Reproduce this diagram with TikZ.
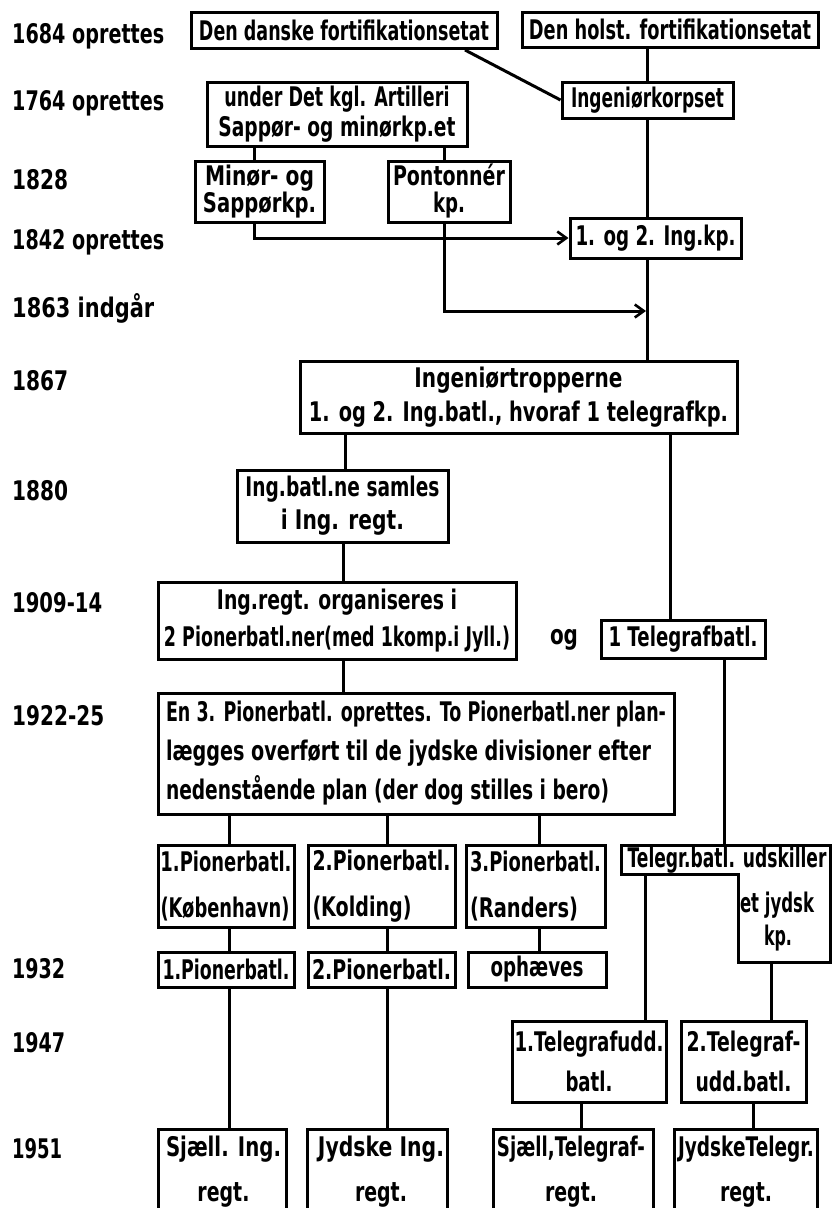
\documentclass[tikz,border=0pt]{standalone}
\usepackage{fontspec}
\usepackage{graphicx}
\newfontfamily\dfont[FakeStretch=0.63]{DejaVu Sans}
\usetikzlibrary{arrows.meta}
\newcommand{\bxfont}[1]{\dfont\bfseries\fontsize{27}{#1}\selectfont}
\newcommand{\fw}[2]{\resizebox{#1pt}{\height}{#2}}
\begin{document}
\begin{tikzpicture}[x=1pt,y=-1pt,
  box/.style={draw,line width=3pt,inner sep=0pt,align=center,font=\bxfont{30}},
  txt/.style={inner sep=0pt,align=center,font=\bxfont{30}},
  yr/.style={anchor=base west,inner sep=0pt,font=\bxfont{30}},
  ln/.style={line width=3pt},
  arr/.style={ln,-{Straight Barb[length=9pt,width=13pt,line width=2.6pt]}}
]
\useasboundingbox (0,0) rectangle (833,1208);
\fill[white] (0,0) rectangle (833,1208);

% year labels
\node[yr] (y1684) at (12,43) {\fw{152}{1684 oprettes}};
\node[yr] (y1764) at (12,110) {\fw{152}{1764 oprettes}};
\node[yr] (y1828) at (12,189) {\fw{56}{1828}};
\node[yr] (y1842) at (12,249) {\fw{152}{1842 oprettes}};
\node[yr] (y1863) at (12,317) {\fw{142}{1863 indgår}};
\node[yr] (y1867) at (12,390) {\fw{56}{1867}};
\node[yr] (y1880) at (12,500) {\fw{56}{1880}};
\node[yr] (y1909) at (12,612) {\fw{90}{1909-14}};
\node[yr] (y1922) at (12,725) {\fw{92}{1922-25}};
\node[yr] (y1932) at (12,978) {\fw{53}{1932}};
\node[yr] (y1947) at (12,1052) {\fw{53}{1947}};
\node[yr] (y1951) at (12,1158) {\fw{50}{1951}};

% boxes
\node[box,minimum width=306,minimum height=36] (A) at (344,30.5) {\fw{290}{Den danske fortifikationsetat}};
\node[box,minimum width=296,minimum height=35] (B) at (670,29.5) {\fw{282}{Den holst. fortifikationsetat}};
\node[box,minimum width=171,minimum height=36] (C) at (647.5,100) {\fw{153}{Ingeniørkorpset}};
\node[box,minimum width=260,minimum height=64] (D) at (337,114) {\fw{225}{under Det kgl. Artilleri}\\\fw{237}{Sappør- og minørkp.et}};
\node[box,minimum width=129,minimum height=61,font=\bxfont{27}] (E) at (259.5,191.5) {\fw{109}{Minør- og}\\\fw{113}{Sappørkp.}};
\node[box,minimum width=122,minimum height=61,font=\bxfont{27}] (F) at (449,191.5) {\fw{112}{Pontonnér}\\\fw{32}{kp.}};
\node[box,minimum width=171,minimum height=40] (G) at (655.5,238) {\fw{160}{1. og 2. Ing.kp.}};
\node[box,minimum width=437,minimum height=72,font=\bxfont{34}] (H) at (518.5,397) {\fw{208}{Ingeniørtropperne}\\\fw{419}{1. og 2. Ing.batl., hvoraf 1 telegrafkp.}};
\node[box,minimum width=211,minimum height=72,font=\bxfont{33}] (I) at (342.5,506) {\fw{194}{Ing.batl.ne samles}\\\fw{123}{i Ing. regt.}};
\node[box,minimum width=358,minimum height=77,font=\bxfont{37}] (J) at (337,620.5) {\fw{240}{Ing.regt. organiseres i}\\\fw{346}{2 Pionerbatl.ner(med 1komp.i Jyll.)}};
\node[txt] (og) at (564,640) {\fw{28}{og}};
\node[box,minimum width=164,minimum height=38] (K) at (683,639) {\fw{149}{1 Telegrafbatl.}};
\node[box,minimum width=516,minimum height=121,align=left,font=\bxfont{39}] (L) at (416,753.5) {\fw{500}{En 3. Pionerbatl. oprettes. To Pionerbatl.ner plan-}\\\fw{485}{lægges overført til de jydske divisioner efter}\\\fw{443}{nedenstående plan (der dog stilles i bero)}};
\node[box,minimum width=136,minimum height=82,align=left,font=\bxfont{46}] (M1) at (226,886) {\fw{131}{1.Pionerbatl.}\\\fw{129}{(København)}};
\node[box,minimum width=147,minimum height=82,align=left,font=\bxfont{46}] (M2) at (381.5,886) {\fw{138}{2.Pionerbatl.}\\\fw{99}{(Kolding)}};
\node[box,minimum width=139,minimum height=82,align=left,font=\bxfont{46}] (M3) at (535.5,886) {\fw{131}{3.Pionerbatl.}\\\fw{108}{(Randers)}};
\node[box,minimum width=136,minimum height=35] (N1) at (226,969.5) {\fw{127}{1.Pionerbatl.}};
\node[box,minimum width=147,minimum height=35] (N2) at (381.5,969.5) {\fw{139}{2.Pionerbatl.}};
\node[box,minimum width=138,minimum height=35] (N3) at (537,969.5) {\fw{93}{ophæves}};
\node[box,minimum width=154,minimum height=81,font=\bxfont{40}] (O1) at (589,1061.5) {\fw{149}{1.Telegrafudd.}\\\fw{47}{batl.}};
\node[box,minimum width=125,minimum height=81,font=\bxfont{40}] (O2) at (743.5,1061.5) {\fw{114}{2.Telegraf-}\\\fw{96}{udd.batl.}};
\node[box,minimum width=128,minimum height=101] (P1) at (222,1179.5) {};
\node[box,minimum width=140,minimum height=101] (P2) at (377,1179.5) {};
\node[box,minimum width=160,minimum height=101] (P3) at (573,1179.5) {};
\node[box,minimum width=143,minimum height=101] (P4) at (745.5,1179.5) {};
\node[txt,font=\bxfont{45}] (P1t) at (223.5,1172) {\fw{115}{Sjæll. Ing.}\\\fw{52}{regt.}};
\node[txt,font=\bxfont{45}] (P2t) at (381,1172) {\fw{126}{Jydske Ing.}\\\fw{52}{regt.}};
\node[txt,font=\bxfont{45}] (P3t) at (571,1172) {\fw{148}{Sjæll,Telegraf-}\\\fw{52}{regt.}};
\node[txt,font=\bxfont{45}] (P4t) at (746,1172) {\fw{136}{JydskeTelegr.}\\\fw{52}{regt.}};

% L-shaped box
\coordinate (Ta) at (621,845);
\coordinate (Tb) at (830,845);
\coordinate (Tc) at (830,962);
\coordinate (Td) at (738,962);
\coordinate (Te) at (738,874);
\coordinate (Tf) at (621,874);
\draw[ln] (Ta) -- (Tb) -- (Tc) -- (Td) -- (Te) -- (Tf) -- cycle;
\node[txt] (T1) at (727,860) {\fw{199}{Telegr.batl. udskiller}};
\node[txt] (T2) at (777,905) {\fw{74}{et jydsk}};
\node[txt] (T3) at (778,938) {\fw{28}{kp.}};

% connectors
\draw[ln] (A.south -| 465,0) -- (C.west);
\draw[ln] (B.south -| C.north) -- (C.north);
\draw[ln] (C.south) -- (C.south |- G.north);
\draw[ln] (D.south -| 254,0) -- (E.north -| 254,0);
\draw[ln] (D.south -| 444,0) -- (F.north -| 444,0);
\draw[arr] (E.south -| 254,0) |- (G.west);
\coordinate (J63) at (646,311);
\draw[arr] (F.south -| 444,0) |- (J63);
\draw[ln] (G.south -| C.south) -- (H.north -| C.south);
\draw[ln] (H.south -| 345,0) -- (I.north -| 345,0);
\draw[ln] (H.south -| 670,0) -- (K.north -| 670,0);
\draw[ln] (I.south -| 343,0) -- (J.north -| 343,0);
\draw[ln] (J.south -| 343,0) -- (L.north -| 343,0);
\draw[ln] (L.south -| 229,0) -- (M1.north -| 229,0);
\draw[ln] (L.south -| 387,0) -- (M2.north -| 387,0);
\draw[ln] (L.south -| 539,0) -- (M3.north -| 539,0);
\draw[ln] (K.south -| 724,0) -- (Ta -| 724,0);
\draw[ln] (M1.south -| 229,0) -- (N1.north -| 229,0);
\draw[ln] (M2.south -| 387,0) -- (N2.north -| 387,0);
\draw[ln] (M3.south -| 539,0) -- (N3.north -| 539,0);
\draw[ln] (Tf -| 645,0) -- (O1.north -| 645,0);
\draw[ln] (Td -| 771,0) -- (O2.north -| 771,0);
\draw[ln] (N1.south -| 229,0) -- (P1.north -| 229,0);
\draw[ln] (N2.south -| 387,0) -- (P2.north -| 387,0);
\draw[ln] (O1.south -| 581,0) -- (P3.north -| 581,0);
\draw[ln] (O2.south -| 753,0) -- (P4.north -| 753,0);
\end{tikzpicture}
\end{document}
